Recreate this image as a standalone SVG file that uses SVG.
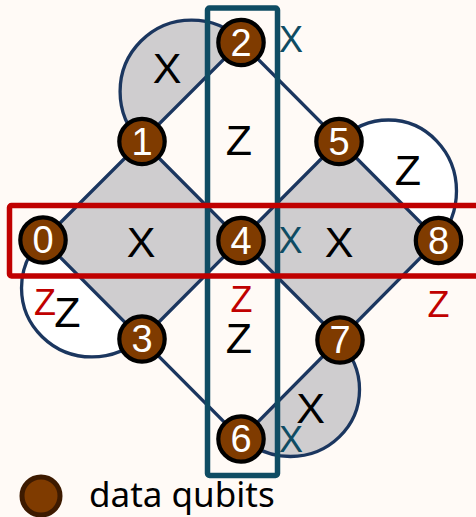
<svg xmlns="http://www.w3.org/2000/svg" width="476" height="517" viewBox="0 0 476 517">
<style>
.e{stroke:#1b365f;stroke-width:3.3;fill:none}
.g{fill:#cfcdcf;stroke:none}
.w{fill:#fff;stroke:none}
.q{fill:#7f3b00;stroke:#000;stroke-width:4.2}
.n{font:38px "Liberation Sans",Arial,sans-serif;fill:#fff;text-anchor:middle}
.l{font:43px "Liberation Sans",Arial,sans-serif;fill:#000;text-anchor:middle}
.r{font:36px "Liberation Sans",Arial,sans-serif;fill:#c00000;text-anchor:middle}
.t{font:36px "Liberation Sans",Arial,sans-serif;fill:#0f4c63;text-anchor:middle}
</style>
<rect width="476" height="517" fill="#fffaf6"/>
<g id="plaquettes">
<path class="g" d="M141 142A71 71 0 0 1 242 41Z"/>
<path class="g" d="M142 141L241 240L142 339L43 240Z"/>
<path class="g" d="M339 141L438 240L339 339L241 240Z"/>
<path class="g" d="M339.300 342.100A68.900 66.900 0 0 1 241.700 436.900Z"/>
<path class="w" d="M42.200 239.200A70.400 68.900 0 0 0 141.800 336.800Z"/>
<path class="w" d="M340.400 140.800A67.900 70.900 0 0 1 436.600 241.200Z"/>
</g>
<g id="connectors">
<path class="e" d="M141 142A71 71 0 0 1 242 41"/>
<path class="e" d="M42.200 239.200A70.400 68.900 0 0 0 141.800 336.800"/>
<path class="e" d="M340.400 140.800A67.900 70.900 0 0 1 436.600 241.200"/>
<path class="e" d="M339.300 342.100A68.900 66.900 0 0 1 241.700 436.900"/>
<path class="e" d="M43 240L241 42L438 240L241 439Z"/>
<path class="e" d="M142 141L340 340M142 339L339 141"/>
</g>
<g id="labels">
<text class="l" x="167" y="83">X</text>
<text class="l" x="239" y="155">Z</text>
<text class="l" x="141" y="257">X</text>
<text class="l" x="339" y="257">X</text>
<text class="l" x="408" y="185">Z</text>
<text class="l" x="67.500" y="327">Z</text>
<text class="l" x="239" y="353">Z</text>
<text class="l" x="310.500" y="423">X</text>
<text class="r" x="45" y="315">Z</text>
<text class="r" x="241.500" y="312">Z</text>
<text class="r" x="438.500" y="317">Z</text>
<text class="t" x="291" y="52">X</text>
<text class="t" x="290.500" y="253">X</text>
<text class="t" x="291" y="452">X</text>
</g>
<rect id="stab-x" x="207.500" y="8" width="70" height="467.500" rx="2" fill="none" stroke="#0f4c63" stroke-width="5.500"/>
<rect id="stab-z" x="9.500" y="205.500" width="480" height="70.500" rx="2" fill="none" stroke="#c00000" stroke-width="5.500"/>
<g id="q0"><circle class="q" cx="43" cy="240" r="22.700"/><text class="n" x="43" y="253">0</text></g>
<g id="q1"><circle class="q" cx="142" cy="141.500" r="22.700"/><text class="n" x="142" y="155">1</text></g>
<g id="q2"><circle class="q" cx="241" cy="42.500" r="22.700"/><text class="n" x="241" y="56">2</text></g>
<g id="q3"><circle class="q" cx="142" cy="339" r="22.700"/><text class="n" x="142" y="352">3</text></g>
<g id="q4"><circle class="q" cx="241" cy="240.500" r="22.700"/><text class="n" x="241" y="254">4</text></g>
<g id="q5"><circle class="q" cx="339" cy="141.500" r="22.700"/><text class="n" x="339" y="155">5</text></g>
<g id="q6"><circle class="q" cx="241" cy="439" r="22.700"/><text class="n" x="241" y="452">6</text></g>
<g id="q7"><circle class="q" cx="340" cy="340" r="22.700"/><text class="n" x="340" y="353">7</text></g>
<g id="q8"><circle class="q" cx="438.500" cy="240.500" r="22.700"/><text class="n" x="438.500" y="254">8</text></g>
<g id="legend"><circle cx="41" cy="496" r="19" fill="#7f3b00" stroke="#3d1a00" stroke-width="5"/><text x="89" y="507" font-family="'Noto Sans',sans-serif" font-size="35" fill="#000">data qubits</text></g>
</svg>
